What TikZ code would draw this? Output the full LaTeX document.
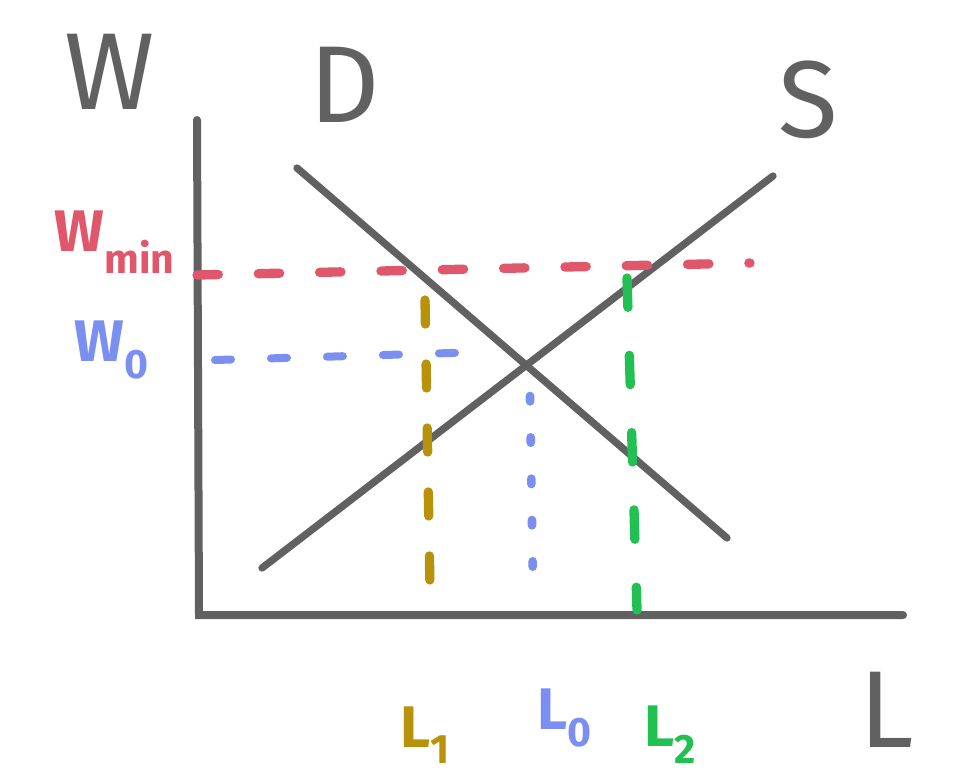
\documentclass[tikz,border=0pt]{standalone}
\usepackage{fontspec}
\setmainfont{Fira Sans}
\definecolor{axisgray}{HTML}{616161}
\definecolor{wred}{HTML}{E0566A}
\definecolor{wblue}{HTML}{7B8FF0}
\definecolor{wolive}{HTML}{B8920A}
\definecolor{wgreen}{HTML}{22C052}
\tikzset{
  axisline/.style={draw=axisgray, line width=6pt, line cap=round},
  curveline/.style={draw=axisgray, line width=5.5pt, line cap=round},
  dashline/.style={line width=7pt, line cap=round, dash pattern=on 14pt off 34pt},
  dotline/.style={line width=6.5pt, line cap=round, dash pattern=on 4pt off 27pt},
  biglabel/.style={text=axisgray, font=\fontsize{82}{82}\selectfont, inner sep=0pt},
  smalllabel/.style={font=\bfseries\fontsize{44}{44}\selectfont, inner sep=0pt},
}
\begin{document}
\begin{tikzpicture}[x=0.75pt, y=-0.75pt]
\useasboundingbox (0,0) rectangle (977,775);
% axes
\coordinate (ytop) at (197,120);
\coordinate (orig) at (199,615);
\coordinate (xend) at (903,615);
\draw[axisline] (ytop) -- (orig) -- (xend);
% demand and supply
\coordinate (d1) at (297,168);
\coordinate (d2) at (727,538);
\coordinate (s1) at (262,568);
\coordinate (s2) at (773,176);
\draw[curveline] (d1) -- (d2);
\draw[curveline] (s1) -- (s2);
% minimum wage line
\coordinate (r1) at (197,275);
\coordinate (r2) at (750,263);
\draw[dashline, wred, dash pattern=on 16pt off 30pt] (r1) -- (r2);
% W0 line
\coordinate (b1) at (215,360);
\coordinate (b2) at (485,352);
\draw[dashline, wblue, line width=6pt, dash pattern=on 12pt off 30pt] (b1) -- (b2);
% L0 dotted
\coordinate (v01) at (530,396);
\coordinate (v02) at (533,588);
\draw[dotline, wblue] (v01) -- (v02);
% L1 dashed
\coordinate (v11) at (425,300);
\coordinate (v12) at (430,590);
\draw[dashline, wolive, dash pattern=on 18pt off 30pt] (v11) -- (v12);
% L2 dashed
\coordinate (v21) at (627,278);
\coordinate (v22) at (637,610);
\draw[dashline, wgreen, dash pattern=on 22pt off 36pt] (v21) -- (v22);
% labels
\node[biglabel] (lw) at (110,72) {W};
\node[biglabel] (ld) at (345,85) {D};
\node[biglabel] (ls) at (808,100) {S};
\node[biglabel] (ll) at (887,710) {L};
\node[smalllabel, text=wred] (lwmin) at (115,242) {W\textsubscript{min}};
\node[smalllabel, text=wblue] (lw0) at (112,350) {W\textsubscript{0}};
\node[smalllabel, text=wolive] (ll1) at (425,735) {L\textsubscript{1}};
\node[smalllabel, text=wblue] (ll0) at (565,718) {L\textsubscript{0}};
\node[smalllabel, text=wgreen] (ll2) at (670,735) {L\textsubscript{2}};
\end{tikzpicture}
\end{document}
